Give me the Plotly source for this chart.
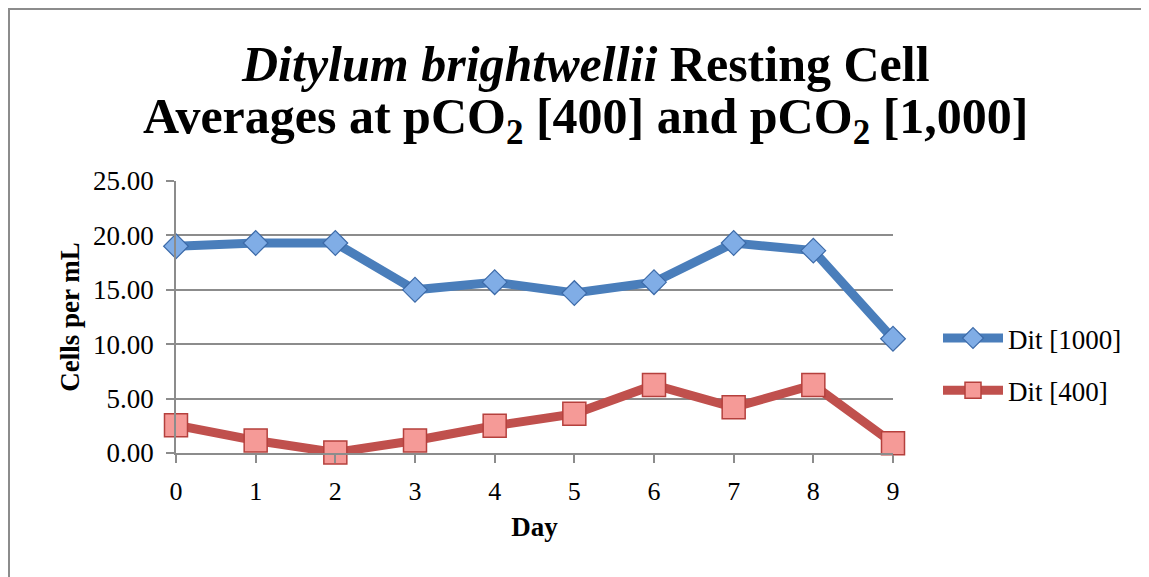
import plotly.graph_objects as go

# ── data ──────────────────────────────────────────────────────────────────────
days = [0, 1, 2, 3, 4, 5, 6, 7, 8, 9]
dit_1000 = [19.0, 19.3, 19.3, 15.0, 15.7, 14.7, 15.7, 19.3, 18.6, 10.5]
dit_400 = [2.55, 1.15, 0.05, 1.15, 2.5, 3.6, 6.25, 4.2, 6.25, 0.9]
y_ticks = [0, 5, 10, 15, 20, 25]
y_labels = ["0.00", "5.00", "10.00", "15.00", "20.00", "25.00"]

title_1 = "<b><i>Ditylum brightwellii</i> Resting Cell</b>"
title_2 = "<b>Averages at pCO<sub>2</sub> [400] and pCO<sub>2</sub> [1,000]</b>"

SERIF = "Liberation Serif, DejaVu Serif, serif"
GRID = "#8c8c8c"

# page has an 8px body margin, so the figure is drawn 8px in from the corner
OFF = 8
W, H = 1149 - OFF, 577 - OFF
PL, PR, PT, PB = 176 - OFF, 893 - OFF, 181 - OFF, 453 - OFF   # plot area in fig px
PW, PH = PR - PL, PB - PT


def px(x):   # figure pixel -> paper x
    return (x - PL) / PW


def py(y):   # figure pixel -> paper y
    return (PB - y) / PH


fig = go.Figure()

fig.add_trace(go.Scatter(
    x=days, y=dit_1000,
    name="Dit [1000]",
    mode="lines+markers",
    legendgroup="a",
    line=dict(color="#4a7ebb", width=9),
    marker=dict(symbol="diamond", size=19, color="#80ade6",
                line=dict(color="#3c6aa8", width=1.2)),
    cliponaxis=False,
))
fig.add_trace(go.Scatter(
    x=days, y=dit_400,
    name="Dit [400]",
    mode="lines+markers",
    legendgroup="b",
    line=dict(color="#c0504d", width=9),
    marker=dict(symbol="square", size=23, color="#f59a97",
                line=dict(color="#b5403d", width=1.5)),
    cliponaxis=False,
))

# outer chart frame (runs off the right/bottom edge like the original)
fig.add_shape(type="rect", xref="paper", yref="paper",
              x0=px(1), x1=1.8, y0=-0.6, y1=py(1),
              line=dict(color="#8c8c8c", width=2), layer="below")

# two-line title, placed line by line
fig.add_annotation(text=title_1, xref="paper", yref="paper",
                   x=px(585 - OFF), y=py(86), xanchor="center", yanchor="bottom",
                   showarrow=False, font=dict(family=SERIF, size=50, color="black"))
fig.add_annotation(text=title_2, xref="paper", yref="paper",
                   x=px(585 - OFF), y=py(146), xanchor="center", yanchor="bottom",
                   showarrow=False, font=dict(family=SERIF, size=50, color="black"))

fig.update_layout(
    width=W, height=H,
    margin=dict(l=PL, r=W - PR, t=PT, b=H - PB),
    paper_bgcolor="white", plot_bgcolor="white",
    font=dict(family=SERIF, color="black", size=26),
    xaxis=dict(
        range=[0, 9], tickvals=days, ticks="outside", ticklen=8,
        tickcolor=GRID, tickwidth=1.5, showgrid=False,
        showline=True, linecolor=GRID, linewidth=1.5, zeroline=False,
        tickfont=dict(size=26), ticklabelstandoff=6,
        title=dict(text="<b>Day</b>", font=dict(size=27), standoff=12),
    ),
    yaxis=dict(
        range=[0, 25], tickvals=y_ticks, ticktext=y_labels, ticks="outside",
        ticklen=8, tickcolor=GRID, tickwidth=1.5,
        showgrid=True, gridcolor=GRID, gridwidth=1.5,
        showline=True, linecolor=GRID, linewidth=1.5, zeroline=False,
        tickfont=dict(size=27), ticklabelstandoff=7,
        title=dict(text="<b>Cells per mL</b>", font=dict(size=27), standoff=6),
    ),
    legend=dict(
        x=px(938 - OFF), xanchor="left", y=py(314 - OFF), yanchor="top",
        font=dict(size=27), traceorder="grouped", tracegroupgap=14,
        itemwidth=60, bgcolor="rgba(0,0,0,0)",
    ),
)

fig.write_html("out.html")
